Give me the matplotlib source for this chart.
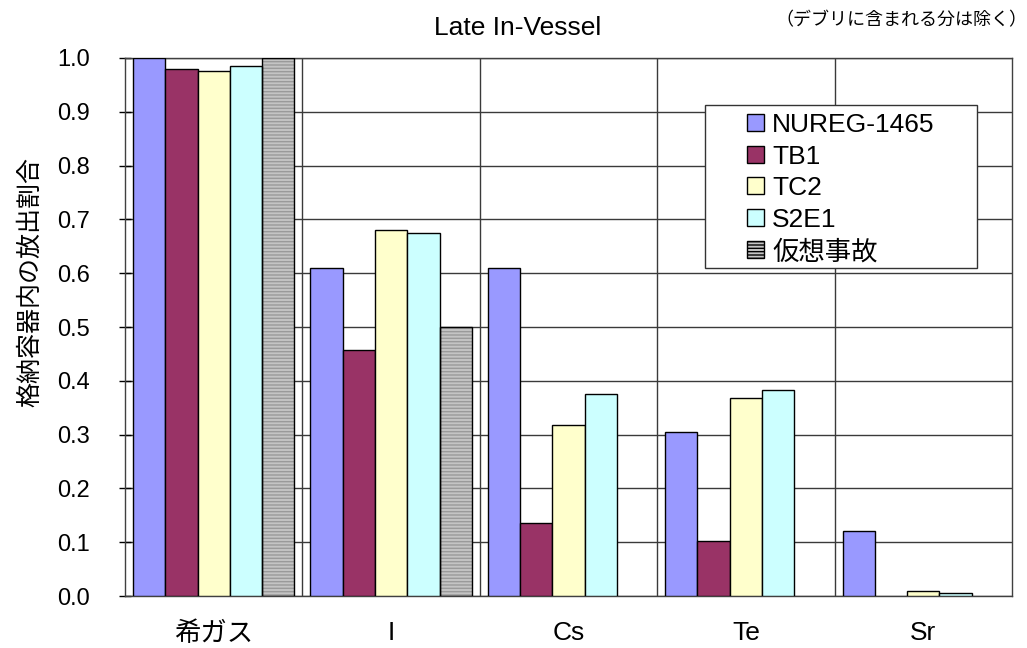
import numpy as np
import matplotlib
matplotlib.use('Agg')
import matplotlib.pyplot as plt
from matplotlib.patches import Rectangle, Patch

LAT = ['Liberation Sans', 'Noto Sans CJK JP']
JP = ['Noto Sans CJK JP', 'DejaVu Sans']
plt.rcParams['font.family'] = LAT

# ─── data ───────────────────────────────────────────
nuclides = ['希ガス', 'I', 'Cs', 'Te', 'Sr']
series = ['NUREG-1465', 'TB1', 'TC2', 'S2E1', '仮想事故']
nureg = [1.00, 0.61, 0.61, 0.305, 0.12]
tb1 = [0.98, 0.457, 0.136, 0.102, 0.0]
tc2 = [0.975, 0.68, 0.318, 0.368, 0.009]
s2e1 = [0.985, 0.675, 0.375, 0.383, 0.005]
kaso = [1.00, 0.50, 0.0, 0.0, 0.0]

colors = ['#9999FF', '#993366', '#FFFFCC', '#CCFFFF', '#C4C4C4']

fig = plt.figure(figsize=(10.27, 6.48), dpi=100, facecolor='white')
ax = fig.add_axes([0.1217, 0.0802, 0.8637, 0.8303])

x = np.arange(len(nuclides))
w = 0.182
offsets = (np.arange(5) - 2) * w
all_vals = [nureg, tb1, tc2, s2e1, kaso]

for i, (vals, c) in enumerate(zip(all_vals, colors)):
    vals = np.asarray(vals)
    keep = vals > 0
    if i == 4:
        # striped fill, then black outline on top
        ax.bar(x[keep] + offsets[i], vals[keep], w, color=c,
               edgecolor='#9A9A9A', hatch='-----', linewidth=0, zorder=2)
        ax.bar(x[keep] + offsets[i], vals[keep], w, fill=False,
               edgecolor='black', linewidth=1.0, zorder=3)
    else:
        ax.bar(x[keep] + offsets[i], vals[keep], w, color=c,
               edgecolor='black', linewidth=1.0, zorder=3)

ax.set_xlim(-0.5, 4.5)
ax.set_ylim(0, 1.0)
ax.set_yticks(np.arange(0, 1.01, 0.1))
ax.set_yticklabels([f'{v:.1f}' for v in np.arange(0, 1.01, 0.1)],
                   fontsize=17, family=LAT)
ax.set_xticks(x)
ax.set_xticklabels(nuclides, fontsize=19, family=LAT)
ax.set_xticks(x[:-1] + 0.5, minor=True)
ax.tick_params(axis='x', which='both', length=0, pad=18)
ax.tick_params(axis='y', direction='inout', length=8, width=1, pad=21)

ax.set_axisbelow(True)
ax.grid(axis='y', which='major', color='#3A3A3A', linewidth=1.0)
ax.grid(axis='x', which='minor', color='#3A3A3A', linewidth=1.0)
for s in ax.spines.values():
    s.set_color('#404040')
    s.set_linewidth(1.0)

ax.set_ylabel('格納容器内の放出割合', fontsize=18, family=JP)
ax.yaxis.set_label_coords(-0.092, 0.584)

fig.text(0.504, 0.957, 'Late In-Vessel', ha='center', va='center',
         fontsize=19, family=LAT)
fig.text(1.0, 0.969, '（デブリに含まれる分は除く）', ha='right', va='center',
         fontsize=13, family=JP)

# legend box
ax.add_patch(Rectangle((0.654, 0.6097), 0.3065, 0.303, transform=ax.transAxes,
                       facecolor='white', edgecolor='#333333', linewidth=1.0,
                       zorder=5))
handles = []
for i, (lab, c) in enumerate(zip(series, colors)):
    if i == 4:
        handles.append(Patch(facecolor=c, edgecolor='black', hatch='-----',
                             linewidth=1.0, label=lab))
    else:
        handles.append(Patch(facecolor=c, edgecolor='black', linewidth=1.0, label=lab))
leg = ax.legend(handles=handles, loc='upper left', bbox_to_anchor=(0.7015, 0.898),
                frameon=False, handlelength=0.62, handleheight=0.62,
                handletextpad=0.33, labelspacing=0.29, borderaxespad=0,
                borderpad=0, prop={'family': LAT, 'size': 19})
leg.set_zorder(6)

plt.savefig('out.png', dpi=100, facecolor='white')
